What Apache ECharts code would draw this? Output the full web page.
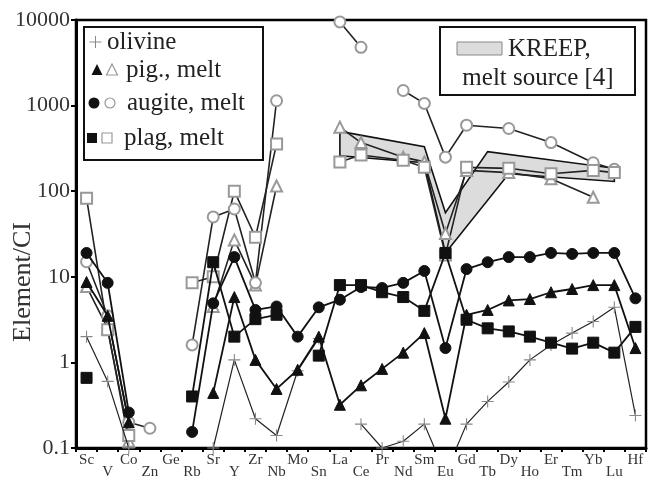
<!DOCTYPE html>
<html><head><meta charset="utf-8">
<script src="https://cdn.jsdelivr.net/npm/echarts@6/dist/echarts.min.js"></script>
<style>html,body{margin:0;padding:0;background:#fff}#c{width:652px;height:482px}</style>
</head><body><div id="c"></div>
<script>
const categories = ['Sc','V','Co','Zn','Ge','Rb','Sr','Y','Zr','Nb','Mo','Sn','La','Ce','Pr','Nd','Sm','Eu','Gd','Tb','Dy','Ho','Er','Tm','Yb','Lu','Hf'];
const yTicks = [0.1, 1, 10, 100, 1000, 10000];
//                Sc   V    Co   Zn   Ge   Rb    Sr   Y    Zr   Nb   Mo   Sn   La   Ce   Pr   Nd   Sm   Eu   Gd   Tb   Dy   Ho   Er   Tm   Yb   Lu   Hf
const olivine  = [2.0, 0.6, 0.1, null,null,null, 0.1, 1.07,0.22,0.14,0.8, 1.9, null,0.19,0.1, 0.12,0.19,0.05,0.19,0.35,0.59,1.07,1.6, 2.2, 3.0, 4.4, 0.24];
const pig      = [8.7, 3.5, 0.2, null,null,null, 0.44,5.8, 1.07,0.49,0.82,2.0, 0.32,0.54,0.84,1.3, 2.2, 0.22,3.6, 4.1, 5.3, 5.5, 6.6, 7.2, 8.0, 8.0, 1.47];
const augite   = [19,  8.5, 0.26,null,null,0.154,4.9,17,  4.1, 4.5, 2.0, 4.4, 5.4, 7.6, 7.4, 8.5, 11.7,1.47,12.3,14.8,17,  17,  19,  18.5,19,  19,  5.6];
const plag     = [0.66,null,null,null,null,0.4, 14.8,2.0, 3.2, 3.6, null,1.2, 8.0, 8.0, 6.6, 5.8, 4.0, 19,  3.15,2.5, 2.3, 2.0, 1.7, 1.45,1.7, 1.3, 2.6];
const pigMelt  = [7.7, 2.5, 0.12,null,null,null, 4.5, 27,  8,   115, null,null,560, 370, null,250, 220, 32,  175, null,165, null,140, null,85,  null,null];
const augMelt  = [15,  3.5, 0.2, 0.17,null,1.6, 50,  62,  8.5, 1140,null,null,9500,4800,null,1500,1060,250, 590, null,540, null,370, null,215, 180, null];
const plagMelt = [83,  2.4, 0.14,null,null,8.5, 10,  100, 29,  355, null,null,220, 265, null,230, 190, 18,  190, null,185, null,160, null,175, 165, null];
const kreepUpper = [null,null,null,null,null,null,null,null,null,null,null,null,500,null,null,null,330,56,null,290,null,null,null,null,null,185,null];
const kreepLower = [null,null,null,null,null,null,null,null,null,null,null,null,260,null,null,null,215,19,null,null,160,null,null,null,null,130,null];
// connected runs (first..last category index) for each series
const runs = {
  olivine:[[0,2],[6,11],[13,26]],
  pig:[[0,2],[6,26]],
  augite:[[0,2],[5,26]],
  plag:[[0],[5,9],[11,26]],
  pigMelt:[[0,2],[6,9],[12,24]],
  augMelt:[[0,3],[5,9],[12,13],[15,25]],
  plagMelt:[[0,2],[5,9],[12,25]]
};

const SERIF = "'Liberation Serif','Times New Roman',serif";
const plusPath = 'path://M5,0h1v5h5v1h-5v5h-1v-5h-5v-1h5z';

function segs(name, arr, runList, symbol, size, lineStyle, itemStyle, z) {
  return runList.map((r) => {
    const a = r[0], b = r.length > 1 ? r[1] : r[0];
    const data = arr.map((v, i) => (i >= a && i <= b) ? v : null);
    return {name, type:'line', data, symbol, symbolSize:size, connectNulls:true, clip:true,
      animation:false, z, lineStyle, itemStyle};
  });
}

const solid = {color:'#111', borderColor:'#111', borderWidth:1};
const open = {color:'#999', borderColor:'#999', borderWidth:1.2};
const meltLine = {color:'#222', width:1.6};
const minLine = {color:'#111', width:1.8};

const chart = echarts.init(document.getElementById('c'), null, {renderer:'canvas'});
chart.setOption({
  animation:false,
  grid:{left:76, right:6, top:20, bottom:34, containLabel:false, outerBoundsMode:'none',
        show:true, borderColor:'#000', borderWidth:2.5, backgroundColor:'transparent'},
  xAxis:{
    type:'category', data:categories, boundaryGap:true,
    axisLine:{lineStyle:{color:'#000', width:3}},
    axisTick:{show:true, length:4, lineStyle:{color:'#000', width:2}},
    axisLabel:{interval:0, margin:5, fontFamily:SERIF, fontSize:15, color:'#333',
      formatter:(v,i)=> i%2===0 ? '{a|'+v+'}' : '{b|'+v+'}',
      rich:{a:{fontFamily:SERIF, fontSize:15, color:'#333'}, b:{fontFamily:SERIF, fontSize:15, color:'#333', padding:[12,0,0,0]}}}
  },
  yAxis:{
    type:'log', logBase:10, min:0.1, max:10000,
    axisLine:{show:true, lineStyle:{color:'#000', width:3}},
    axisTick:{show:true, length:5, lineStyle:{color:'#000', width:2}},
    minorTick:{show:false},
    splitLine:{show:false},
    axisLabel:{margin:6, fontFamily:SERIF, fontSize:22, color:'#333',
      formatter:v=>{ const t=yTicks.find(k=>Math.abs(k-v)/k<1e-6); return t===undefined?'':String(t); }}
  },
  series:[
    {
      type:'custom', name:'KREEP', z:1, animation:false,
      data:[[0,1]],
      renderItem:function(params, api){
        if (params.dataIndex !== 0) return null;
        const pts=[];
        kreepUpper.forEach((v,i)=>{ if(v!=null) pts.push(api.coord([i,v])); });
        for(let i=kreepLower.length-1;i>=0;i--){ const v=kreepLower[i]; if(v!=null) pts.push(api.coord([i,v])); }
        return {type:'polygon', shape:{points:pts}, style:{fill:'#dcdcdc', stroke:'#111', lineWidth:1.6}};
      }
    },
    ...segs('pig melt', pigMelt, runs.pigMelt, 'emptyTriangle', 11, meltLine, open, 3),
    ...segs('augite melt', augMelt, runs.augMelt, 'emptyCircle', 11, meltLine, open, 3),
    ...segs('plag melt', plagMelt, runs.plagMelt, 'emptyRect', 11, meltLine, open, 3),
    ...segs('olivine', olivine, runs.olivine, plusPath, 12, {color:'#222', width:1.2}, {color:'#888', borderWidth:0}, 4),
    ...segs('pig', pig, runs.pig, 'triangle', 11, minLine, solid, 5),
    ...segs('augite', augite, runs.augite, 'circle', 11, minLine, solid, 5),
    ...segs('plag', plag, runs.plag, 'rect', 11, minLine, solid, 5)
  ],
  graphic:[
    {type:'text', x:23, y:282, rotation:Math.PI/2, style:{text:'Element/CI', align:'center', verticalAlign:'middle', font:'26px '+SERIF, fill:'#333'}, z:101},
    {type:'rect', shape:{x:84, y:27, width:179, height:133}, style:{fill:'#fff', stroke:'#111', lineWidth:2}, z:100},
    {type:'line', shape:{x1:89.5, y1:42, x2:101.5, y2:42}, style:{stroke:'#888', lineWidth:1}, z:101},
    {type:'line', shape:{x1:95.5, y1:36, x2:95.5, y2:48}, style:{stroke:'#888', lineWidth:1}, z:101},
    {type:'text', style:{text:'olivine', x:107, y:42, verticalAlign:'middle', font:'25px '+SERIF, fill:'#222'}, z:101},
    {type:'polygon', shape:{points:[[97,64],[91.5,75],[102.5,75]]}, style:{fill:'#111'}, z:101},
    {type:'polygon', shape:{points:[[112,64],[106.5,75],[117.5,75]]}, style:{fill:'#fff', stroke:'#999', lineWidth:1.2}, z:101},
    {type:'text', style:{text:'pig., melt', x:126, y:70, verticalAlign:'middle', font:'25px '+SERIF, fill:'#222'}, z:101},
    {type:'circle', shape:{cx:94, cy:103, r:5.5}, style:{fill:'#111'}, z:101},
    {type:'circle', shape:{cx:110, cy:103, r:5}, style:{fill:'#fff', stroke:'#999', lineWidth:1.2}, z:101},
    {type:'text', style:{text:'augite, melt', x:127, y:103, verticalAlign:'middle', font:'25px '+SERIF, fill:'#222'}, z:101},
    {type:'rect', shape:{x:87, y:133, width:10, height:10}, style:{fill:'#111'}, z:101},
    {type:'rect', shape:{x:102, y:133, width:10, height:10}, style:{fill:'#fff', stroke:'#999', lineWidth:1.2}, z:101},
    {type:'text', style:{text:'plag, melt', x:124, y:138, verticalAlign:'middle', font:'25px '+SERIF, fill:'#222'}, z:101},
    {type:'rect', shape:{x:440, y:27, width:195, height:68}, style:{fill:'#fff', stroke:'#111', lineWidth:2}, z:100},
    {type:'rect', shape:{x:457, y:42, width:45, height:13}, style:{fill:'#dcdcdc', stroke:'#888', lineWidth:1}, z:101},
    {type:'text', style:{text:'KREEP,', x:508, y:49, verticalAlign:'middle', font:'25px '+SERIF, fill:'#222'}, z:101},
    {type:'text', style:{text:'melt source [4]', x:538, y:78, align:'center', verticalAlign:'middle', font:'25px '+SERIF, fill:'#222'}, z:101}
  ]
});
</script></body></html>
